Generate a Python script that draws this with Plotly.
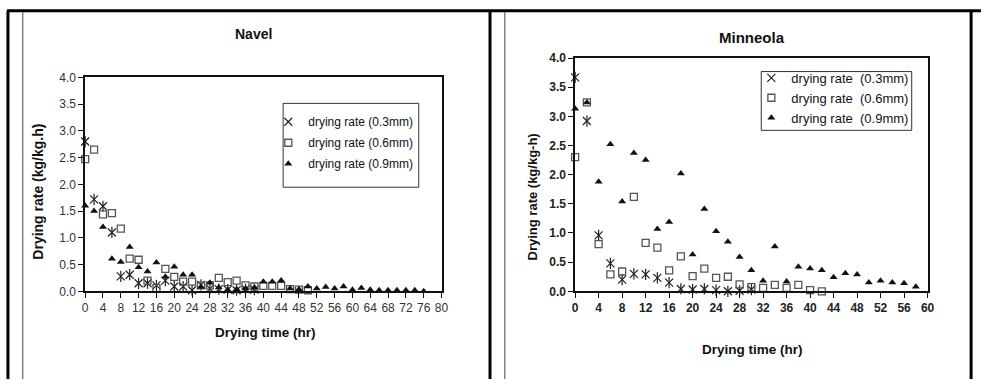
import plotly.graph_objects as go

# ---------------- data ----------------
navel_t_03 = list(range(0, 40, 2))
navel_03 = [2.80, 1.72, 1.59, 1.10, 0.28, 0.31, 0.15, 0.15, 0.11, 0.20,
            0.09, 0.09, 0.02, 0.12, 0.05, 0.04, 0.03, 0.02, 0.04, 0.03]
navel_t_06 = list(range(0, 52, 2))
navel_06 = [2.47, 2.65, 1.44, 1.46, 1.17, 0.61, 0.59, 0.20, 0.06, 0.42,
            0.27, 0.18, 0.18, 0.11, 0.11, 0.25, 0.17, 0.20, 0.11, 0.09,
            0.10, 0.10, 0.10, 0.04, 0.03, 0.02]
navel_t_09 = list(range(0, 78, 2))
navel_09 = [1.60, 1.50, 1.20, 0.61, 0.55, 0.83, 0.45, 0.37, 0.54, 0.27,
            0.46, 0.31, 0.31, 0.08, 0.16, 0.07, 0.03, 0.04, 0.05, 0.07,
            0.18, 0.18, 0.20, 0.05, 0.04, 0.09, 0.05, 0.08, 0.05, 0.09,
            0.03, 0.06, 0.03, 0.02, 0.02, 0.02, 0.02, 0.02, 0.00]

minn_t_03 = list(range(0, 32, 2))
minn_03 = [3.67, 2.92, 0.96, 0.48, 0.20, 0.30, 0.29, 0.23, 0.15, 0.04,
           0.03, 0.04, 0.02, 0.00, 0.01, 0.03]
minn_t_06 = list(range(0, 44, 2))
minn_06 = [2.30, 3.24, 0.81, 0.29, 0.34, 1.62, 0.83, 0.75, 0.36, 0.60,
           0.26, 0.39, 0.23, 0.25, 0.12, 0.07, 0.06, 0.11, 0.06, 0.11,
           0.02, 0.00]
minn_t_09 = list(range(0, 60, 2))
minn_09 = [3.13, 3.24, 1.88, 2.52, 1.54, 2.37, 2.25, 1.07, 1.19, 2.02,
           0.63, 1.41, 1.03, 0.85, 0.59, 0.36, 0.18, 0.77, 0.17, 0.42,
           0.39, 0.36, 0.24, 0.31, 0.29, 0.15, 0.18, 0.15, 0.14, 0.08]

series_names = ["drying rate (0.3mm)", "drying rate (0.6mm)", "drying rate (0.9mm)"]
series_names_r = ["drying rate  (0.3mm)", "drying rate  (0.6mm)", "drying rate  (0.9mm)"]
panel_titles = ["Navel", "Minneola"]
y_titles = ["Drying rate (kg/kg.h)", "Drying rate (kg/kg-h)"]
x_title = "Drying time (hr)"

# ---------------- layout helpers ----------------
W, H = 988, 386
def px(x):
    return x / W
def py(y):
    return 1 - y / H

ARIAL = "Liberation Sans, Arial, sans-serif"

fig = go.Figure()

def add_panel(t3, v3, t6, v6, t9, v9, xa, ya, legend, names):
    g = legend
    fig.add_trace(go.Scatter(x=t3, y=v3, mode="markers", name=names[0],
                             xaxis=xa, yaxis=ya, legend=legend, legendgroup=g + "a",
                             marker=dict(symbol="x-thin-open", size=8, color="#222",
                                         line=dict(color="#222", width=1.2)),
                             cliponaxis=False))
    fig.add_trace(go.Scatter(x=t3, y=v3, mode="markers", showlegend=False,
                             xaxis=xa, yaxis=ya, legend=legend, legendgroup=g + "a",
                             marker=dict(symbol="line-ns-open", size=8, color="#222",
                                         line=dict(color="#222", width=1.2)),
                             cliponaxis=False))
    fig.add_trace(go.Scatter(x=t6, y=v6, mode="markers", name=names[1],
                             xaxis=xa, yaxis=ya, legend=legend, legendgroup=g + "b",
                             marker=dict(symbol="square-open", size=7, color="#555",
                                         line=dict(color="#555", width=1.3)),
                             cliponaxis=False))
    fig.add_trace(go.Scatter(x=t9, y=v9, mode="markers", name=names[2],
                             xaxis=xa, yaxis=ya, legend=legend, legendgroup=g + "c",
                             marker=dict(symbol="triangle-up", size=7, color="#111",
                                         line=dict(width=0)),
                             cliponaxis=False))

add_panel(navel_t_03, navel_03, navel_t_06, navel_06, navel_t_09, navel_09,
          "x", "y", "legend", series_names)
add_panel(minn_t_03, minn_03, minn_t_06, minn_06, minn_t_09, minn_09,
          "x2", "y2", "legend2", series_names_r)

axis_common = dict(showgrid=False, zeroline=False, showline=True, linecolor="#111",
                   linewidth=1.5, mirror=True, ticks="outside", ticklen=5,
                   tickcolor="#111", tickwidth=1)

fig.update_layout(
    width=W, height=H,
    margin=dict(l=0, r=0, t=0, b=0),
    paper_bgcolor="white", plot_bgcolor="white",
    xaxis=dict(domain=[px(83), px(443)], anchor="y", range=[0, 80], dtick=4,
               tickfont=dict(family=ARIAL, size=12, color="#333"), **axis_common),
    yaxis=dict(domain=[py(295), py(73)], anchor="x", range=[0, 4], dtick=0.5,
               tickformat=".1f", tickfont=dict(family=ARIAL, size=12, color="#333"),
               **axis_common),
    xaxis2=dict(domain=[px(578), px(934)], anchor="y2", range=[0, 60], dtick=4,
                tickfont=dict(family=ARIAL, size=12, color="#222", weight="bold"),
                **axis_common),
    yaxis2=dict(domain=[py(295), py(53)], anchor="x2", range=[0, 4], dtick=0.5,
                tickformat=".1f", tickfont=dict(family=ARIAL, size=12, color="#222", weight="bold"),
                **axis_common),
    legend=dict(x=px(268), y=py(104), xanchor="left", yanchor="top",
                bgcolor="rgba(0,0,0,0)", borderwidth=0, itemwidth=30,
                traceorder="grouped", tracegroupgap=2,
                font=dict(family=ARIAL, size=12, color="#111")),
    legend2=dict(x=px(756), y=py(58), xanchor="left", yanchor="top",
                 bgcolor="rgba(0,0,0,0)", borderwidth=0, itemwidth=30,
                 traceorder="grouped", tracegroupgap=0,
                 font=dict(family=ARIAL, size=13, color="#111")),
    showlegend=True,
)

annotations = [
    dict(text="<b>Navel</b>", x=px(253), y=py(28), font=dict(family=ARIAL, size=14, color="#111")),
    dict(text="<b>Minneola</b>", x=px(757), y=py(32), font=dict(family=ARIAL, size=15, color="#111")),
    dict(text="<b>" + y_titles[0] + "</b>", x=px(35), y=py(192), textangle=-90,
         font=dict(family=ARIAL, size=14, color="#111")),
    dict(text="<b>" + y_titles[1] + "</b>", x=px(535), y=py(197), textangle=-90,
         font=dict(family=ARIAL, size=13, color="#111")),
    dict(text="<b>" + x_title + "</b>", x=px(265), y=py(338),
         font=dict(family=ARIAL, size=13.5, color="#111")),
    dict(text="<b>" + x_title + "</b>", x=px(757), y=py(355),
         font=dict(family=ARIAL, size=13.5, color="#111")),
]
for a in annotations:
    a.update(xref="paper", yref="paper", showarrow=False, xanchor="center", yanchor="middle")
fig.update_layout(annotations=annotations)

def line(x0, y0, x1, y1, w, c="#000"):
    return dict(type="line", xref="paper", yref="paper", x0=px(x0), y0=py(y0),
                x1=px(x1), y1=py(y1), line=dict(color=c, width=w))

shapes = [
    line(4, 4, 988, 4, 3),
    line(5, 4, 5, 386, 3),
    line(20, 5, 20, 386, 1, "#444"),
    line(492, 4, 492, 386, 3),
    line(507, 5, 507, 386, 1, "#444"),
    line(978, 4, 978, 386, 3),
    dict(type="rect", xref="paper", yref="paper", x0=px(283), y0=py(100), x1=px(420), y1=py(187),
         line=dict(color="#333", width=1)),
    dict(type="rect", xref="paper", yref="paper", x0=px(766), y0=py(67), x1=px(918), y1=py(128),
         line=dict(color="#333", width=1)),
]
fig.update_layout(shapes=shapes)

fig.write_html("out.html", config={"displayModeBar": False},
               post_script="document.body.style.margin='0';document.body.style.overflow='hidden';")
